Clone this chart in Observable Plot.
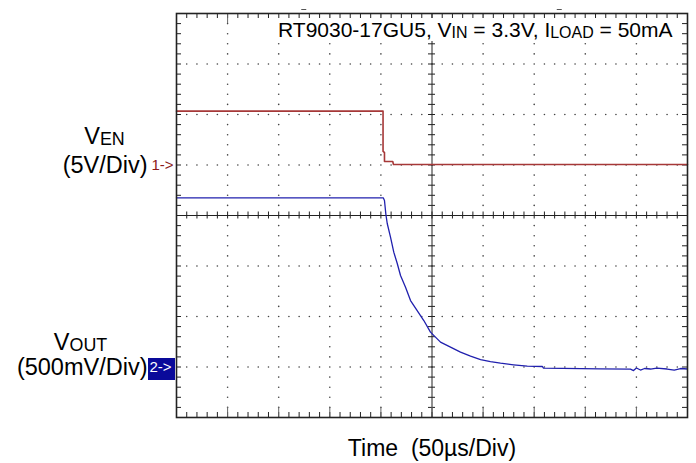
<!DOCTYPE html>
<html><head><meta charset="utf-8">
<script src="https://cdn.jsdelivr.net/npm/d3@7"></script>
<script src="https://cdn.jsdelivr.net/npm/@observablehq/plot@0.6"></script>
<style>
body{margin:0;background:#fff}
#chart{width:696px;height:463px}
</style>
</head><body><div id="chart"></div>
<script>
// ---------------- data ----------------
// Channel 1: V_EN (5V/Div), Channel 2: V_OUT (500mV/Div); time 50us/Div
const venTimeUs = [0, 202.1, 202.1, 203.5, 203.5, 211.6, 212.3, 500];
const venVolts  = [5.33, 5.33, 1.34, 1.24, 0.35, 0.35, 0.05, 0.05];

const voutTimeUs = [0, 202.3, 203.5, 204.8, 206.2, 209.4, 212.6, 216.0, 219.2, 224.1,
  229.0, 235.5, 242.0, 248.5, 258.3, 268.1, 277.9, 287.7, 297.5, 307.2,
  317.0, 329.8, 343.2, 357.9, 359.1, 414.9, 444.2, 447.2, 450.0, 454.0,
  458.0, 463.8, 470.0, 480.1, 487.0, 493.2, 500];
const voutVolts = [1.675, 1.675, 1.648, 1.517, 1.421, 1.285, 1.137, 1.025, 0.906, 0.790,
  0.658, 0.559, 0.460, 0.345, 0.246, 0.196, 0.147, 0.107, 0.074, 0.054,
  0.038, 0.022, 0.008, 0.005, -0.012, -0.018, -0.022, -0.035, -0.010, -0.030,
  -0.015, -0.020, -0.012, -0.020, -0.030, -0.015, -0.020];

const channelNames = ["1", "2"];
const channelVoltsPerDiv = [5, 0.5];
const channelOffsetDiv = [1, -3];
const channelLabels = ["V_{EN}", "V_{OUT}"];
const channelScaleLabels = ["(5V/Div)", "(500mV/Div)"];

const titleText = "RT9030-17GU5, V_{IN} = 3.3V, I_{LOAD} = 50mA";
const xLabelText = "Time\u00a0\u00a0(50\u00b5s/Div)";

// screen grid: 10 x 8 divisions, 5 subdivisions
const usPerDiv = 50;
const xDivs = 10, yDivs = 8, subDiv = 5;

// ---------------- derived tables ----------------
const ven = venTimeUs.map((t, i) => ({t, v: venVolts[i]}));
const vout = voutTimeUs.map((t, i) => ({t, v: voutVolts[i]}));
const toDiv = (ch) => (d) => d.v / channelVoltsPerDiv[ch] + channelOffsetDiv[ch];

const xMax = xDivs * usPerDiv;
const yTop = yDivs / 2, yBot = -yDivs / 2;
const xMajor = d3.range(0, xDivs + 1).map(i => i * usPerDiv);
const yMajor = d3.range(yBot, yTop + 1);
const xMinor = d3.range(0, xDivs * subDiv + 1).map(i => i * usPerDiv / subDiv);
const yMinor = d3.range(yBot * subDiv, yTop * subDiv + 1).map(i => i / subDiv);
const xCenter = xMax / 2;

const xMinorIn = xMinor.filter(v => v > 0 && v < xMax);
const yMinorIn = yMinor.filter(v => v > yBot && v < yTop);
const xMajorIn = xMajor.filter(v => v > 0 && v < xMax);
const yMajorIn = yMajor.filter(v => v > yBot && v < yTop);

const gridDots = [];
for (const y of yMajorIn) if (y !== 0) for (const x of xMinorIn) gridDots.push({x, y});
for (const x of xMajorIn) if (x !== xCenter) for (const y of yMinorIn) if (!yMajorIn.includes(Math.round(y * 1000) / 1000)) gridDots.push({x, y});

const channels = channelNames.map((name, i) => ({name, off: channelOffsetDiv[i], label: channelLabels[i], scale: channelScaleLabels[i]}));

// measure the title (with its subscripts) to size its white backing box
const fontFamily = "'Liberation Sans', Arial, sans-serif";
const titleSize = 21, subScale = 0.76;
const ctx = document.createElement("canvas").getContext("2d");
let titleWidth = 0;
for (const p of titleText.split(/(_\{[^}]*\})/).filter(p => p.length)) {
  const sub = p.startsWith("_{");
  ctx.font = `${sub ? titleSize * subScale : titleSize}px ${fontFamily}`;
  titleWidth += ctx.measureText(sub ? p.slice(2, -1) : p).width;
}
const titleDx = -15;

const ink = "#222";
const font = 23.5;
const chart = Plot.plot({
  width: 696, height: 463,
  marginLeft: 176, marginRight: 9, marginTop: 13, marginBottom: 46,
  style: {fontFamily, background: "#fff", overflow: "visible"},
  x: {domain: [0, xMax], axis: null},
  y: {domain: [yBot, yTop], axis: null},
  marks: [
    // dotted graticule
    Plot.dot(gridDots, {x: "x", y: "y", r: 0.8, fill: "#444", stroke: null}),
    // centre axes
    Plot.ruleY([0], {stroke: ink, strokeWidth: 1}),
    Plot.ruleX([xCenter], {stroke: ink, strokeWidth: 1}),
    Plot.ruleX(xMinorIn, {x: d => d, y1: 0, y2: 0, insetTop: -3.5, insetBottom: -3.5, stroke: ink}),
    Plot.ruleY(yMinorIn, {y: d => d, x1: xCenter, x2: xCenter, insetLeft: -3.5, insetRight: -3.5, stroke: ink}),
    // edge ticks: top / bottom
    Plot.ruleX(xMinorIn, {x: d => d, y1: yTop, y2: yTop, insetBottom: -5, stroke: ink}),
    Plot.ruleX(xMinorIn, {x: d => d, y1: yBot, y2: yBot, insetTop: -5, stroke: ink}),
    Plot.ruleX(xMajorIn, {x: d => d, y1: yTop, y2: yTop, insetBottom: -10, stroke: "#666"}),
    Plot.ruleX(xMajorIn, {x: d => d, y1: yBot, y2: yBot, insetTop: -10, stroke: "#666"}),
    // edge ticks: left / right
    Plot.ruleY(yMinorIn, {y: d => d, x1: 0, x2: 0, insetRight: -5, stroke: ink}),
    Plot.ruleY(yMinorIn, {y: d => d, x1: xMax, x2: xMax, insetLeft: -5, stroke: ink}),
    // small markers above the screen
    Plot.ruleY([xMax / 4, xMax * 3 / 4], {x1: d => d, x2: d => d, y: yTop, dy: -4, insetLeft: -2.5, insetRight: -2.5, stroke: "#555"}),
    // traces
    Plot.line(ven, {x: "t", y: toDiv(0), stroke: "#a63838", strokeWidth: 1.6}),
    Plot.line(vout, {x: "t", y: toDiv(1), stroke: "#2020ae", strokeWidth: 1.3}),
    // white box behind the title, then the title
    Plot.rect([titleText], {x1: xMax, x2: xMax, y1: yTop, y2: yTop,
      insetLeft: titleDx - titleWidth - 3, insetRight: 10,
      insetTop: 5, insetBottom: -28, fill: "#fff"}),
    // frame
    Plot.frame({stroke: ink, strokeWidth: 1.6}),
    Plot.text([titleText], {x: xMax, y: yTop, text: d => d, textAnchor: "end", lineAnchor: "bottom",
      dx: titleDx, dy: 23, fontSize: titleSize, fill: "#000"}),
    // channel labels
    Plot.text([channels[0]], {x: 0, y: d => d.off, text: d => d.label, textAnchor: "middle", lineAnchor: "bottom", dx: -72, dy: -21.5, fontSize: font, fill: "#000"}),
    Plot.text([channels[1]], {x: 0, y: d => d.off, text: d => d.label, textAnchor: "middle", lineAnchor: "bottom", dx: -96, dy: -17.5, fontSize: font, fill: "#000"}),
    Plot.text(channels, {x: 0, y: d => d.off, text: d => d.scale, textAnchor: "end", lineAnchor: "bottom", dx: -29, dy: 7.5, fontSize: font, fill: "#000"}),
    // channel ground markers
    Plot.text([channels[0]], {x: 0, y: d => d.off, text: d => d.name + "->", textAnchor: "end", lineAnchor: "bottom", dx: -3, dy: 5, fontSize: 15, fill: "#8b1a1a"}),
    Plot.rect([channels[1]], {x1: 0, x2: 0, y1: d => d.off, y2: d => d.off, insetLeft: -28, insetRight: 1, insetTop: -8.5, insetBottom: -13.5, fill: "#0a0a9a"}),
    Plot.text([channels[1]], {x: 0, y: d => d.off, text: d => d.name + "->", textAnchor: "start", lineAnchor: "bottom", dx: -27, dy: 4.5, fontSize: 15, fill: "#fff"}),
    // x label
    Plot.text([xLabelText], {x: xCenter, y: yBot, text: d => d, textAnchor: "middle", lineAnchor: "bottom", dy: 38, fontSize: 23, fill: "#000"})
  ]
});
document.getElementById("chart").appendChild(chart);

// subscripts: turn "_{...}" into smaller tspans
d3.select(chart).selectAll("text").each(function () {
  const s = this.textContent;
  if (!s.includes("_{")) return;
  const parts = s.split(/(_\{[^}]*\})/).filter(p => p.length);
  while (this.firstChild) this.removeChild(this.firstChild);
  let shifted = false;
  for (const p of parts) {
    const t = document.createElementNS("http://www.w3.org/2000/svg", "tspan");
    if (p.startsWith("_{")) {
      t.textContent = p.slice(2, -1);
      t.setAttribute("font-size", `${subScale * 100}%`);
      t.setAttribute("dy", "1");
      shifted = true;
    } else {
      t.textContent = p;
      if (shifted) { t.setAttribute("dy", "-1"); shifted = false; }
    }
    this.appendChild(t);
  }
});
</script>
</body></html>
